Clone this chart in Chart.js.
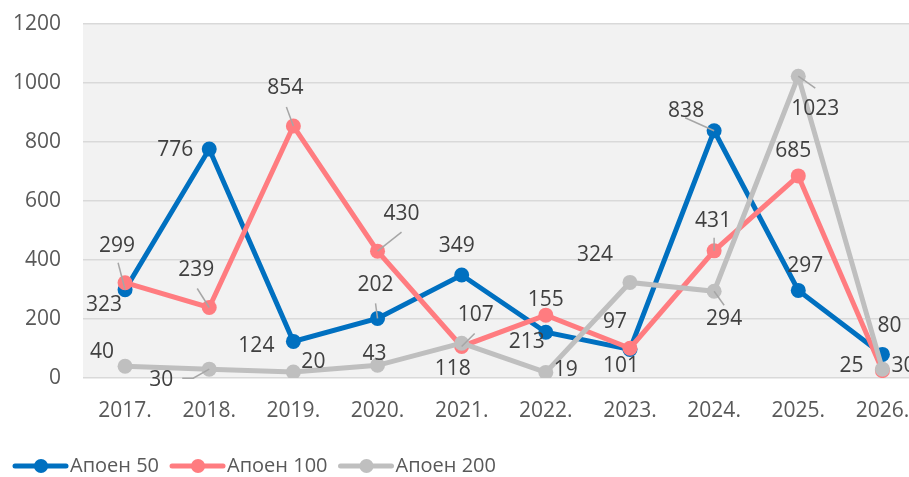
<!DOCTYPE html>
<html><head><meta charset="utf-8">
<script src="https://cdn.jsdelivr.net/npm/chart.js@4.4.0/dist/chart.umd.min.js"></script>
<style>html,body{margin:0;padding:0;overflow:hidden;background:#fff}#wrap{width:932px;height:477px;position:relative}</style>
</head><body><div id="wrap"><canvas id="c" width="932" height="477"></canvas></div>
<script>
const categories = ['2017.','2018.','2019.','2020.','2021.','2022.','2023.','2024.','2025.','2026.'];
const seriesNames = ['Апоен 50','Апоен 100','Апоен 200'];
const apoen50  = [299, 776, 124, 202, 349, 155, 97, 838, 297, 80];
const apoen100 = [323, 239, 854, 430, 107, 213, 101, 431, 685, 25];
const apoen200 = [40, 30, 20, 43, 118, 19, 324, 294, 1023, 30];
const yTicks = [0, 200, 400, 600, 800, 1000, 1200];

// label placement (style only)
const off50  = [[-8,-44],[-34,1],[-37,5],[-2,-33],[-5,-29],[0,-32],[-15,-27],[-28,-20],[7,-24],[7,-28]];
const off100 = [[-21,22],[-13,-37],[-8,-38],[24,-37],[14,-31],[-19,27],[-9,18],[-1,-30],[-5,-25],[-31,-5]];
const off200 = [[-23,-14],[-48,11],[20,-10],[-3,-11],[-9,26],[20,-2],[-35,-27],[10,28],[17,33],[21,-3]];
const lead50  = {0:[[-7,-27]], 3:[[-2,-15]], 7:[[-29,-13]]};
const lead100 = {1:[[-12,-19]], 2:[[-7,-19]], 3:[[24,-19]], 4:[[13,-13]], 7:[[0,-13]]};
const lead200 = {1:[[-27,9],[-16,9]], 7:[[10,14]], 8:[[17,12]]};
const colors = ['#0070c0','#ff7c80','#bfbfbf'];

Chart.defaults.font.family = "'Open Sans', sans-serif";

const offsets = [off50, off100, off200];
const leaders = [lead50, lead100, lead200];

const bgPlugin = {
  id:'bg',
  beforeDraw(chart){
    const {ctx, chartArea:a} = chart;
    ctx.save(); ctx.fillStyle='#f2f2f2';
    ctx.fillRect(a.left, a.top, a.right-a.left, a.bottom-a.top);
    ctx.restore();
  }
};
const labelPlugin = {
  id:'lbl',
  afterDatasetsDraw(chart){
    const ctx = chart.ctx;
    ctx.save();
    chart.data.datasets.forEach((ds, i) => {
      const meta = chart.getDatasetMeta(i);
      meta.data.forEach((pt, j) => {
        const L = leaders[i][j];
        if (L) {
          ctx.strokeStyle = '#a6a6a6'; ctx.lineWidth = 1.5;
          ctx.beginPath();
          ctx.moveTo(pt.x + L[0][0], pt.y + L[0][1]);
          for (let k = 1; k < L.length; k++) ctx.lineTo(pt.x + L[k][0], pt.y + L[k][1]);
          ctx.lineTo(pt.x, pt.y);
          ctx.stroke();
        }
      });
    });
    ctx.font = "21px 'Open Sans', sans-serif";
    ctx.fillStyle = '#404040';
    ctx.textAlign = 'center'; ctx.textBaseline = 'middle';
    chart.data.datasets.forEach((ds, i) => {
      const meta = chart.getDatasetMeta(i);
      meta.data.forEach((pt, j) => {
        const o = offsets[i][j];
        ctx.fillText(String(ds.data[j]), pt.x + o[0], pt.y + o[1]);
      });
    });
    ctx.restore();
  }
};
const legendPlugin = {
  id:'lgd',
  afterDraw(chart){
    const ctx = chart.ctx;
    ctx.save();
    ctx.font = "20px 'Open Sans', sans-serif";
    ctx.textBaseline = 'middle'; ctx.textAlign = 'left';
    let x = 15; const y = 466;
    seriesNames.forEach((name, i) => {
      ctx.strokeStyle = colors[i]; ctx.lineWidth = 5; ctx.lineCap = 'round';
      ctx.beginPath(); ctx.moveTo(x, y); ctx.lineTo(x + 51, y); ctx.stroke();
      ctx.fillStyle = colors[i];
      ctx.beginPath(); ctx.arc(x + 26, y, 7, 0, Math.PI*2); ctx.fill();
      ctx.fillStyle = '#595959';
      ctx.fillText(name, x + 55, y);
      x += 55 + ctx.measureText(name).width + 13;
    });
    ctx.restore();
  }
};

new Chart(document.getElementById('c'), {
  type:'line',
  data:{
    labels: categories,
    datasets:[
      {label:seriesNames[0], data:apoen50, borderColor:colors[0], backgroundColor:colors[0], order:2},
      {label:seriesNames[1], data:apoen100, borderColor:colors[1], backgroundColor:colors[1], order:1},
      {label:seriesNames[2], data:apoen200, borderColor:colors[2], backgroundColor:colors[2], order:0}
    ].map(d => Object.assign(d, {borderWidth:5, pointRadius:7.5, pointHoverRadius:7.5, pointBorderWidth:0, tension:0, fill:false}))
  },
  options:{
    responsive:false, animation:false, devicePixelRatio:1,
    layout:{padding:{left:0, right:0, top:0, bottom:0}},
    plugins:{legend:{display:false}, tooltip:{enabled:false}},
    scales:{
      x:{
        offset:true,
        grid:{display:false}, border:{display:false},
        ticks:{color:'#595959', font:{size:21}, padding:12, maxRotation:0, autoSkip:false},
        afterFit(s){ s.height = 99; s.paddingLeft = 0; s.paddingRight = 0; }
      },
      y:{
        min:0, max:1200,
        afterBuildTicks(s){ s.ticks = yTicks.map(v => ({value:v})); },
        grid:{color:'#d9d9d9', lineWidth:1.5, drawTicks:false},
        border:{display:false},
        ticks:{color:'#595959', font:{size:21}, padding:22, callback:(v) => String(v)},
        afterFit(s){ s.width = 83; s.paddingTop = 24; s.paddingBottom = 0; }
      }
    }
  },
  plugins:[bgPlugin, labelPlugin, legendPlugin]
});
</script></body></html>
